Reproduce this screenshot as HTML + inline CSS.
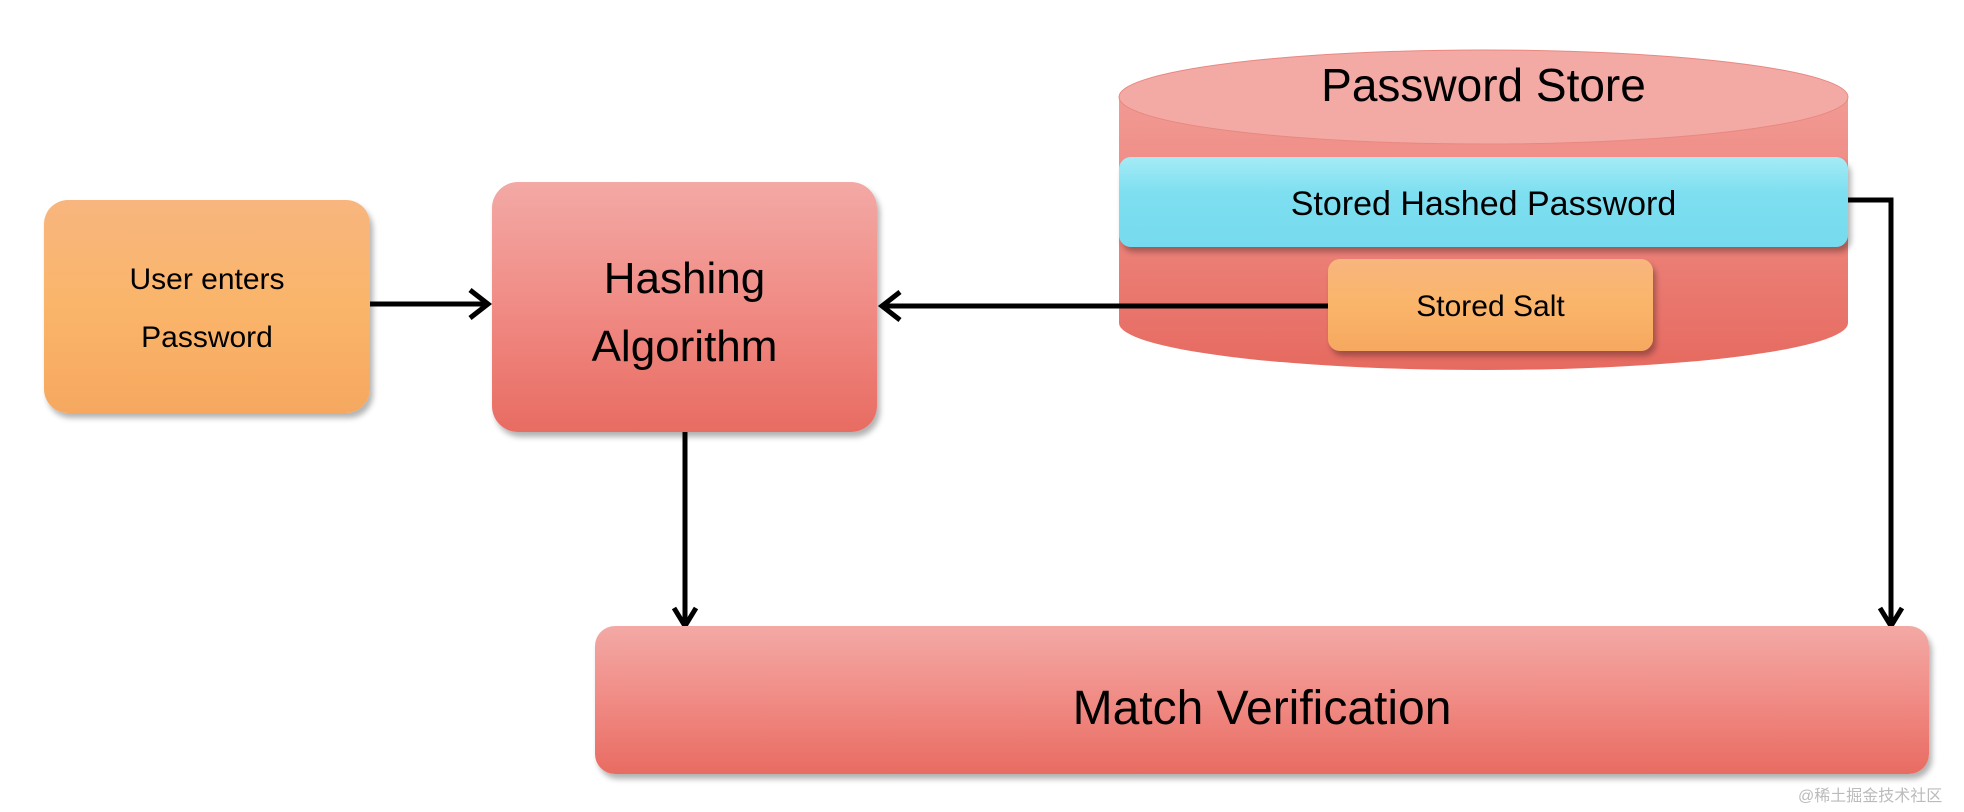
<!DOCTYPE html>
<html><head><meta charset="utf-8"><style>
body{margin:0;width:1964px;height:812px;background:#fff;overflow:hidden;position:relative;font-family:"Liberation Sans","Noto Sans CJK SC",sans-serif}
.b{position:absolute;box-sizing:border-box;display:flex;align-items:center;justify-content:center;text-align:center;color:#000;box-shadow:3px 5px 6px rgba(0,0,0,.3)}
.red{background:linear-gradient(#f3a9a5,#f18e88 45%,#e86c62);border-radius:26px}
.org{background:linear-gradient(#f8b57e,#fab56a 50%,#f6a85f);border-radius:24px}
</style></head><body>
<div class="b org" style="left:44px;top:200px;width:326px;height:213px;font-size:30px;line-height:58px;padding-top:4px">User enters<br>Password</div>
<div class="b red" style="left:492px;top:182px;width:385px;height:250px;font-size:44px;line-height:68px;padding-top:12px">Hashing<br>Algorithm</div>
<svg style="position:absolute;left:0;top:0" width="1964" height="812">
<defs><linearGradient id="cg" x1="0" y1="0" x2="0" y2="1"><stop offset="0" stop-color="#f29a94"/><stop offset="1" stop-color="#e66a60"/></linearGradient></defs>
<path d="M1119 97 V323 A364.5 47 0 0 0 1848 323 V97 Z" fill="url(#cg)"/>
<ellipse cx="1483.5" cy="97" rx="364.5" ry="47" fill="#f3aaa5" stroke="#e88880" stroke-width="1"/>
<g stroke="#000" stroke-width="5" fill="none">
<line x1="370" y1="304" x2="486" y2="304"/><polyline points="470,290 488,304 470,318"/>
<line x1="1328" y1="306" x2="884" y2="306"/><polyline points="900,292 882,306 900,320"/>
<line x1="685" y1="432" x2="685" y2="624"/><polyline points="674,608 685,626 696,608"/>
<polyline points="1848,200 1891,200 1891,624"/><polyline points="1880,608 1891,626 1902,608"/>
</g></svg>
<div style="position:absolute;left:1119px;top:58px;width:729px;text-align:center;font-size:46px">Password Store</div>
<div class="b" style="left:1119px;top:157px;width:729px;height:90px;background:linear-gradient(#a5ebf6,#7ddff0 40%,#76dbee);border-radius:12px;font-size:34px;padding-top:4px">Stored Hashed Password</div>
<div class="b org" style="left:1328px;top:259px;width:325px;height:92px;border-radius:12px;font-size:30px;padding-top:4px">Stored Salt</div>
<div class="b red" style="left:595px;top:626px;width:1334px;height:148px;border-radius:20px;font-size:48px;padding-top:16px">Match Verification</div>
<div style="position:absolute;left:1798px;top:782px;font-size:16px;color:#bbb">@稀土掘金技术社区</div>
</body></html>
